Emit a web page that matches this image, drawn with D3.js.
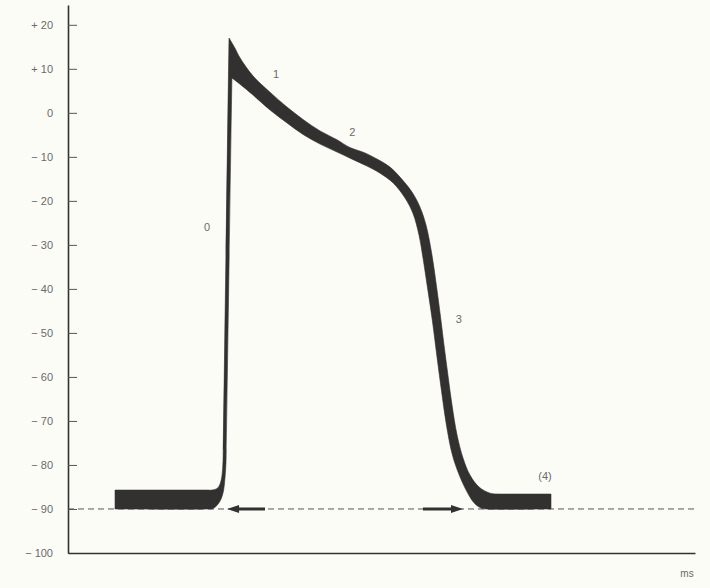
<!DOCTYPE html>
<html>
<head>
<meta charset="utf-8">
<script src="https://cdn.jsdelivr.net/npm/d3@7"></script>
<style>
  body { margin: 0; background: #fcfcf7; }
  text { font-family: "Liberation Sans", Arial, sans-serif; }
</style>
</head>
<body>
<svg width="710" height="588"></svg>
<script>
// action potential, time in ms, voltage in mV
const yTicks = [20, 10, 0, -10, -20, -30, -40, -50, -60, -70, -80, -90, -100];
const yTickLabels = ['+ 20', '+ 10', '0', '\u2212 10', '\u2212 20', '\u2212 30', '\u2212 40',
  '\u2212 50', '\u2212 60', '\u2212 70', '\u2212 80', '\u2212 90', '\u2212 100'];

const restingPotential = -90;

// trace drawn as a thick band: outer (upper) and inner (lower) edges
// phase 4 -> phase 0 up to the peak
const riseOuter = [[45, -85.7], [50, -85.7], [132, -85.7], [137.8, -85.7], [142.6, -85.35],
  [145.5, -84.3], [147.4, -82.3], [148.3, -79.3], [148.5, -76.6], [153.9, 14.3], [154.1, 17]];
const riseInner = [[45, -90], [50, -90], [133, -90], [138.8, -89.9], [144.5, -88.6],
  [148.3, -86.4], [150.2, -83], [151.2, -79.3], [151.4, -76.6], [156.7, 5.6], [156.9, 7.9]];

// phases 1, 2, 3 and back to rest
const fallOuter = [[154.1, 17], [159.8, 14.7], [164.6, 12.5], [177, 8.4], [193.3, 4.7], [209.6, 1.3],
  [224.9, -1.5], [241.2, -4.1], [257.4, -6.1], [269.9, -7.9], [284.2, -9.1], [295.7, -10.5],
  [308.1, -12.3], [317.7, -14.6], [329.2, -18], [336.8, -21.4], [342.6, -25.5], [348.3, -32.3],
  [353.1, -40.2], [356.9, -47.1], [359.8, -52.7], [363.6, -59.6], [367.5, -66.4], [372.3, -73.2],
  [378, -78.4], [384.7, -82.3], [393.3, -85], [403.8, -86.4], [413.4, -86.6], [418, -86.6],
  [457, -86.6], [462.2, -86.6]];
const fallInner = [[156.9, 7.9], [164.6, 6.5], [177, 4.05], [193.3, 0.65], [209.6, -2.3], [224.9, -4.9],
  [241.2, -7.1], [257.4, -8.9], [269.9, -10.3], [286.1, -12.1], [298.6, -13.7], [311, -15.9],
  [322.5, -19.35], [330.2, -22.9], [335.9, -27.8], [339.7, -33], [343.6, -39.1], [348.6, -47.1],
  [353.5, -56.2], [357.3, -63], [362.1, -70.9], [367.8, -77.7], [374.4, -82.3], [381.8, -86.1],
  [388.5, -88.6], [395.2, -89.8], [400, -90], [457, -90], [462.2, -90]];

const phaseLabels = ['0', '1', '2', '3', '(4)'];
const phaseT = [133, 199, 272, 374, 456.5];
const phaseV = [-26.2, 8.6, -4.6, -47, -82.7];

// arrows along the resting line: [from, to]
const arrows = [[188.5, 152.2], [339.7, 378]];

const svg = d3.select('svg');
const width = +svg.attr('width');
const height = +svg.attr('height');

const x = d3.scaleLinear().domain([0, 600]).range([68, 695]);
const y = d3.scaleLinear().domain([-100, 24.5]).range([553, 5]);

const ink = '#333030';
const grey = '#6a6a6a';

// dashed resting line
svg.append('line')
  .attr('x1', x(0))
  .attr('x2', x(600))
  .attr('y1', y(restingPotential))
  .attr('y2', y(restingPotential))
  .attr('stroke', '#555')
  .attr('stroke-width', 1)
  .attr('stroke-dasharray', '6,4');

// arrows
arrows.forEach(a => {
  const dir = Math.sign(a[1] - a[0]);
  const yy = y(restingPotential);
  svg.append('line')
    .attr('x1', x(a[0]))
    .attr('x2', x(a[1]) - dir * 8)
    .attr('y1', yy)
    .attr('y2', yy)
    .attr('stroke', ink)
    .attr('stroke-width', 3);
  const tip = x(a[1]);
  svg.append('path')
    .attr('d', `M${tip},${yy} L${tip - dir * 12},${yy - 4} L${tip - dir * 12},${yy + 4} Z`)
    .attr('fill', ink);
});

// the trace as a filled band
const line = d3.line()
  .x(d => x(d[0]))
  .y(d => y(d[1]))
  .curve(d3.curveCatmullRom.alpha(0.5));

const bandPath = line(riseOuter)
  + line(fallOuter).replace(/^M/, 'L')
  + line(fallInner.slice().reverse()).replace(/^M/, 'L')
  + line(riseInner.slice().reverse()).replace(/^M/, 'L') + 'Z';

svg.append('path')
  .attr('d', bandPath)
  .attr('fill', ink)
  .attr('stroke', ink)
  .attr('stroke-width', 0.6)
  .attr('stroke-linejoin', 'miter');

// y axis
const yAxis = svg.append('g')
  .attr('transform', `translate(${x(0)},0)`)
  .call(d3.axisRight(y)
    .tickValues(yTicks)
    .tickSize(9)
    .tickSizeOuter(0)
    .tickFormat((d, i) => yTickLabels[i]));

yAxis.select('.domain')
  .attr('stroke', ink)
  .attr('stroke-width', 1.6);
yAxis.selectAll('.tick line')
  .attr('stroke', '#555')
  .attr('stroke-width', 1);
yAxis.selectAll('.tick text')
  .attr('x', -15)
  .attr('text-anchor', 'end')
  .attr('fill', grey)
  .attr('font-size', 11)
  .attr('font-family', '"Liberation Sans", Arial, sans-serif');

// x axis, no ticks
const xAxis = svg.append('g')
  .attr('transform', `translate(0,${y(-100)})`)
  .call(d3.axisBottom(x).tickValues([]).tickSizeOuter(0));
xAxis.select('.domain')
  .attr('stroke', ink)
  .attr('stroke-width', 1.6);

svg.append('text')
  .attr('x', x(600) - 8)
  .attr('y', y(-100) + 24)
  .attr('text-anchor', 'middle')
  .attr('fill', grey)
  .attr('font-size', 10)
  .text('ms');

// phase numbers
svg.selectAll('.phase')
  .data(phaseLabels)
  .join('text')
  .attr('class', 'phase')
  .attr('x', (d, i) => x(phaseT[i]))
  .attr('y', (d, i) => y(phaseV[i]))
  .attr('text-anchor', 'middle')
  .attr('dominant-baseline', 'middle')
  .attr('fill', grey)
  .attr('font-size', 11)
  .text(d => d);
</script>
</body>
</html>
